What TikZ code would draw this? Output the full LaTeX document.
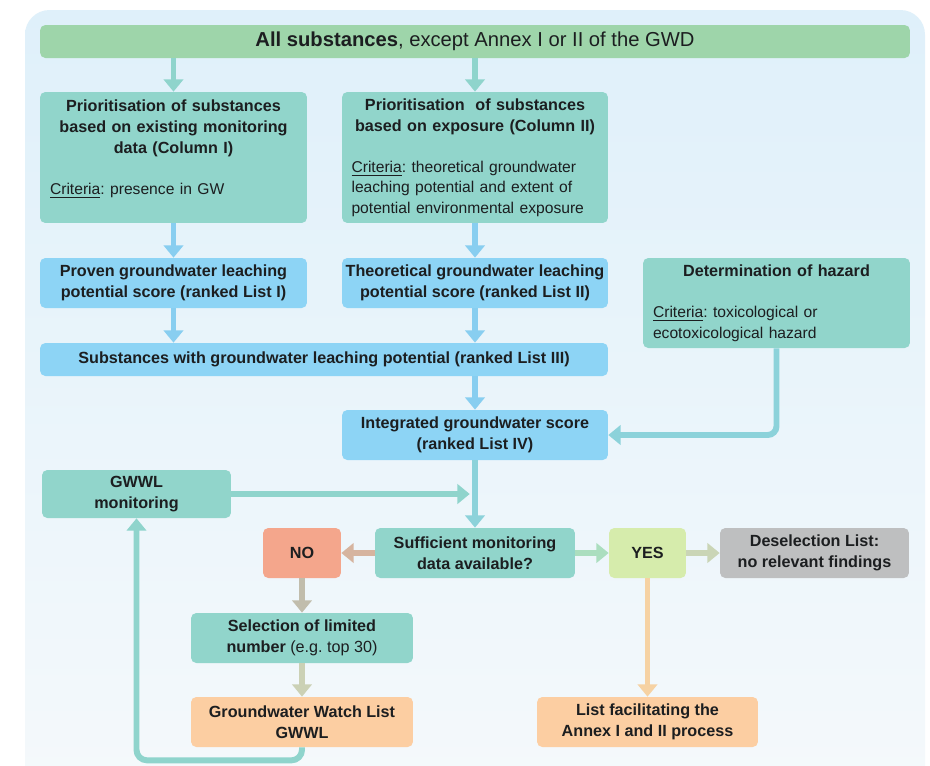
\documentclass[tikz,border=0pt]{standalone}
\usepackage{fontspec}
\setmainfont{Liberation Sans}
\usetikzlibrary{arrows.meta}
\setlength{\parindent}{0pt}
\frenchspacing

\definecolor{bgtop}{RGB}{223,240,250}
\definecolor{bgbot}{RGB}{245,249,251}
\definecolor{greenc}{RGB}{158,213,170}
\definecolor{tealc}{RGB}{145,213,203}
\definecolor{bluec}{RGB}{141,212,245}
\definecolor{noc}{RGB}{244,166,140}
\definecolor{yesc}{RGB}{214,236,172}
\definecolor{greyc}{RGB}{190,191,192}
\definecolor{peachc}{RGB}{252,206,162}
\definecolor{textc}{RGB}{28,30,32}
\definecolor{tealarrow}{RGB}{143,212,204}
\definecolor{bluearrow}{RGB}{136,206,240}

\newcommand{\boxfont}{\fontsize{9.2}{11.9}\selectfont}
\newcommand{\crit}{\fontsize{8.9}{11.6}\selectfont\mdseries}

\tikzset{
  box/.style={rounded corners=3pt, inner sep=0pt, text=textc, font=\boxfont\bfseries, align=center},
  flow/.style={line width=3.4pt, -{Triangle[width=11pt,length=7pt]}},
}

\begin{document}
\begin{tikzpicture}[x=0.02cm,y=-0.02cm]
\useasboundingbox (0,0) rectangle (930,765);
\fill[white] (0,0) rectangle (930,765);
\begin{scope}
\clip (0,0) rectangle (930,765);
\shade[top color=bgtop, bottom color=bgbot, rounded corners=14pt] (25,10) rectangle (925,800);
\end{scope}

% top line
\node[box, fill=greenc, minimum width=17.4cm, minimum height=0.66cm, font=\fontsize{11.5}{14}\selectfont] (all) at (475,41.5)
  {\textbf{All substances}, except Annex I or II of the GWD};

% the two columns
\node[box, fill=tealc, minimum width=5.34cm, minimum height=2.62cm, text width=4.94cm, align=left] (colone) at (173.5,157.5)
  {{\centering Prioritisation of substances\\based on existing monitoring\\data (Column I)\par}\vspace{\baselineskip}%
   {\crit\underline{Criteria}: presence in GW\par\mbox{}}};
\node[box, fill=tealc, minimum width=5.32cm, minimum height=2.62cm, text width=4.94cm, align=left] (coltwo) at (475,157.5)
  {{\centering Prioritisation\ \ of substances\\based on exposure (Column II)\par}\vspace{\baselineskip}%
   {\crit\underline{Criteria}: theoretical groundwater\\leaching potential and extent of\\potential environmental exposure\par}};

\node[box, fill=bluec, minimum width=5.34cm, minimum height=1.0cm] (listone) at (173.5,283)
  {Proven groundwater leaching\\potential score (ranked List I)};
\node[box, fill=bluec, minimum width=5.32cm, minimum height=1.0cm] (listtwo) at (475,283)
  {Theoretical groundwater leaching\\potential score (ranked List II)};
\node[box, fill=tealc, minimum width=5.34cm, minimum height=1.8cm, text width=4.94cm, align=left] (hazard) at (776.5,303)
  {{\centering Determination of hazard\par}\vspace{\baselineskip}%
   {\crit\underline{Criteria}: toxicological or\\ecotoxicological hazard\par}};

\node[box, fill=bluec, minimum width=11.36cm, minimum height=0.66cm] (listthree) at (324,359.5)
  {Substances with groundwater leaching potential (ranked List III)};
\node[box, fill=bluec, minimum width=5.32cm, minimum height=1.0cm] (listfour) at (475,435)
  {Integrated groundwater score\\(ranked List IV)};

% monitoring decision
\node[box, fill=tealc, minimum width=3.78cm, minimum height=0.96cm] (gwwlmon) at (136.5,494)
  {GWWL\\monitoring};
\node[box, fill=tealc, minimum width=4.0cm, minimum height=1.0cm] (suff) at (475,553)
  {Sufficient monitoring\\data available?};
\node[box, fill=noc, minimum width=1.56cm, minimum height=1.0cm] (no) at (302,553) {NO};
\node[box, fill=yesc, minimum width=1.54cm, minimum height=1.0cm] (yes) at (647.5,553) {YES};
\node[box, fill=greyc, minimum width=3.78cm, minimum height=1.0cm] (desel) at (814.5,553)
  {Deselection List:\\no relevant findings};
\node[box, fill=tealc, minimum width=4.44cm, minimum height=1.0cm] (select) at (302,638)
  {Selection of limited\\number {\mdseries(e.g. top 30)}};
\node[box, fill=peachc, minimum width=4.44cm, minimum height=1.0cm] (watch) at (302,722)
  {Groundwater Watch List\\GWWL};
\node[box, fill=peachc, minimum width=4.42cm, minimum height=1.0cm] (annex) at (647.5,722)
  {List facilitating the\\Annex I and II process};

% arrows
\draw[flow, color=tealarrow] (all.south -| colone.north) -- (colone.north);
\draw[flow, color=tealarrow] (all.south -| coltwo.north) -- (coltwo.north);
\draw[flow, color=bluearrow] (colone.south) -- (listone.north);
\draw[flow, color=bluearrow] (coltwo.south) -- (listtwo.north);
\draw[flow, color=bluearrow] (listone.south) -- (listthree.north -| listone.south);
\draw[flow, color=bluearrow] (listtwo.south) -- (listthree.north -| listtwo.south);
\draw[flow, color=bluearrow] (listthree.south -| listfour.north) -- (listfour.north);
\draw[flow, color=tealarrow!60!bluearrow, rounded corners=5pt] (hazard.south) -- (hazard.south |- listfour.east) -- (listfour.east);
\draw[flow, color=bluearrow!40!tealarrow] (listfour.south) -- (suff.north);
\draw[flow, color=tealarrow, shorten >=3pt] (gwwlmon.east) -- (gwwlmon.east -| listfour.south);
\draw[flow, color=noc!70!tealarrow] (suff.west) -- (no.east);
\draw[flow, color=yesc!40!tealarrow] (suff.east) -- (yes.west);
\draw[flow, color=greyc!50!yesc] (yes.east) -- (desel.west);
\draw[flow, color=noc!50!tealarrow] (no.south) -- (select.north);
\draw[flow, color=peachc!55!tealarrow] (select.south) -- (watch.north);
\draw[flow, color=peachc!85!yesc] (yes.south) -- (annex.north);
\draw[flow, color=tealarrow, rounded corners=6pt] (watch.south) -- ++(0,13) -| (gwwlmon.south);
\end{tikzpicture}
\end{document}
